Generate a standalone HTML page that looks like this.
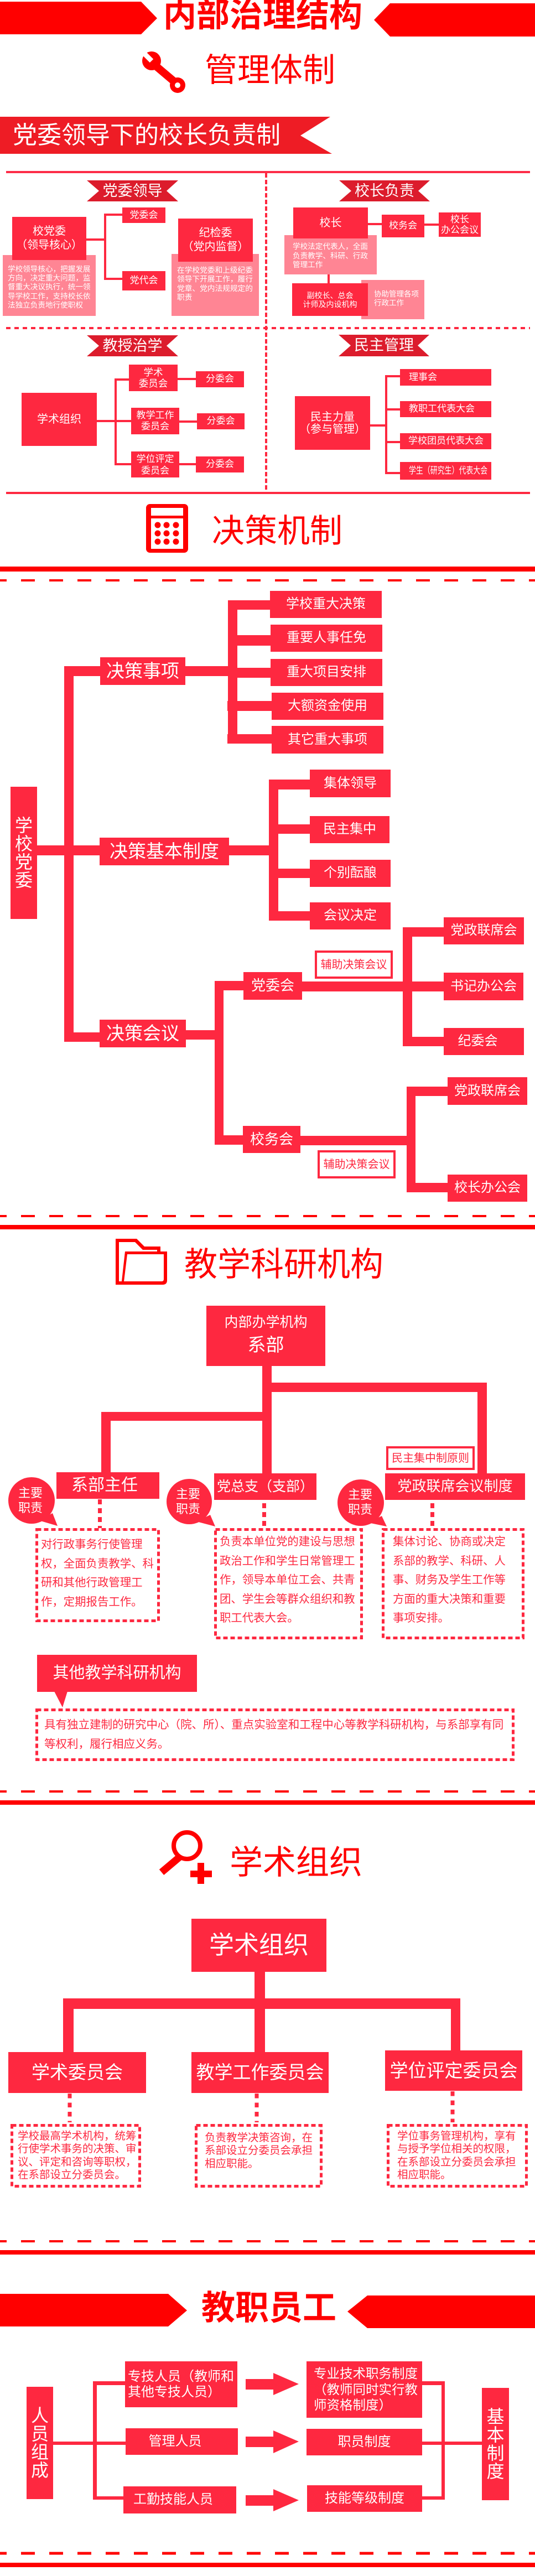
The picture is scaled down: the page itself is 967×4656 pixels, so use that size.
<!DOCTYPE html>
<html><head><meta charset="utf-8">
<style>
body{margin:0;background:#fff}
#p{position:relative;width:967px;height:4656px;overflow:hidden;background:#fff;font-family:"Liberation Sans","Noto Sans CJK SC",sans-serif}
.a{position:absolute;white-space:nowrap}
.b{position:absolute;background:#fe2840;color:#fff;display:flex;flex-direction:column;align-items:center;justify-content:center;text-align:center;white-space:nowrap;line-height:1.2}
.pk{position:absolute;background:#ff8594}
.l{position:absolute;background:#fe2840}
.h{position:absolute;white-space:nowrap;line-height:1;color:#f00}
.w{color:#fff}
.o{position:absolute;background:#fff;border:4px solid #fe2840;box-sizing:border-box;color:#fe2840;display:flex;align-items:center;justify-content:center;white-space:nowrap;line-height:1}
.dt{position:absolute;white-space:nowrap;color:#fe2840}
</style></head><body><div id="p">

<svg class="a" style="left:0;top:0" width="967" height="4656" viewBox="0 0 967 4656">
<!-- title chevrons -->
<polygon points="0,3 255,3 284,33 255,62 0,62" fill="#f00"/>
<polygon points="705,6 967,6 967,66 705,66 676,36" fill="#f00"/>
<!-- wrench -->
<line x1="279" y1="117" x2="318" y2="150" stroke="#f00" stroke-width="14"/>
<circle cx="274" cy="110" r="17" fill="#f00"/>
<rect x="-4.5" y="-32" width="9" height="32" fill="#fff" transform="translate(274,110) rotate(-45)"/>
<circle cx="321" cy="154" r="14" fill="#f00"/>
<circle cx="321" cy="154" r="5" fill="#fff"/>
<!-- banner -->
<polygon points="0,211 597,211 543,245 600,278 0,278" fill="#ee1c25"/>
<rect x="11" y="309" width="947" height="4" fill="#fd2c48"/>
<line x1="481" y1="313" x2="481" y2="889" stroke="#fe2840" stroke-width="4" stroke-dasharray="8 4"/>
<line x1="11" y1="593" x2="958" y2="593" stroke="#fe2840" stroke-width="4" stroke-dasharray="8 7"/>
<polygon points="157,326 322,326 301,345 322,364 157,364 179,345" fill="#dc1c2c"/>
<polygon points="613,326 777,326 756,345 777,364 613,364 635,345" fill="#dc1c2c"/>
<polygon points="157,606 322,606 301,625 322,644 157,644 179,625" fill="#dc1c2c"/>
<polygon points="612,605 776,605 755,624.5 776,644 612,644 634,624.5" fill="#dc1c2c"/>
<rect x="11" y="889" width="947" height="4" fill="#fe2840"/>
<!-- calculator -->
<rect x="264" y="911" width="76" height="88" rx="7" fill="#f00"/>
<rect x="273" y="918" width="58" height="14" fill="#fff"/>
<rect x="273" y="937" width="58" height="55" fill="#fff"/>
<g fill="#f00">
<ellipse cx="285" cy="949" rx="5.5" ry="5.5"/><ellipse cx="301" cy="949" rx="5.5" ry="5.5"/><ellipse cx="318" cy="949" rx="5.5" ry="5.5"/>
<ellipse cx="285" cy="964" rx="5.5" ry="5.5"/><ellipse cx="301" cy="964" rx="5.5" ry="5.5"/><ellipse cx="318" cy="964" rx="5.5" ry="5.5"/>
<ellipse cx="285" cy="979" rx="5.5" ry="5.5"/><ellipse cx="301" cy="979" rx="5.5" ry="5.5"/><ellipse cx="318" cy="979" rx="5.5" ry="5.5"/>
</g>
<rect x="0" y="1024" width="967" height="9" fill="#f00"/>
<line x1="0" y1="1049" x2="967" y2="1049" stroke="#f00" stroke-width="4" stroke-dasharray="25 26" stroke-dashoffset="13"/>
<line x1="0" y1="2198" x2="967" y2="2198" stroke="#f00" stroke-width="4" stroke-dasharray="25 26" stroke-dashoffset="13"/>
<rect x="0" y="2214" width="967" height="8" fill="#f00"/>
<!-- folder -->
<path d="M209,2239 H247 L261,2253 H290 V2262 H302 V2314 Q302,2322 294,2322 H209 Z" fill="#f00"/>
<path d="M215,2245 H244 L258,2259 H284 V2262 H226 L220,2316 H215 Z" fill="#fff"/>
<path d="M230,2267 H296 V2312 Q296,2316 292,2316 H224 Z" fill="#fff"/>
<!-- bubbles -->
<g fill="#fe2840">
<circle cx="57" cy="2712" r="42"/><polygon points="70,2748 95,2735 104,2758"/>
<circle cx="342" cy="2714" r="41"/><polygon points="355,2750 380,2738 389,2759"/>
<circle cx="652" cy="2716" r="42"/><polygon points="665,2752 690,2740 699,2759"/>
<polygon points="98,3057 122,3057 113,3086"/>
</g>
<g stroke="#fe2840" stroke-width="7" stroke-dasharray="9 7">
<line x1="180.5" y1="2710" x2="180.5" y2="2762"/>
<line x1="477.5" y1="2717" x2="477.5" y2="2758"/>
<line x1="781.5" y1="2717" x2="781.5" y2="2758"/>
</g>
<g fill="none" stroke="#fe2840" stroke-width="5" stroke-dasharray="8 5">
<rect x="66.5" y="2764.5" width="220" height="165"/>
<rect x="389.5" y="2764.5" width="264" height="196"/>
<rect x="692.5" y="2764.5" width="253" height="196"/>
<rect x="66.5" y="3090.5" width="861" height="90"/>
<rect x="21.5" y="3841.5" width="231" height="110"/>
<rect x="354.5" y="3841.5" width="226" height="110"/>
<rect x="701.5" y="3841.5" width="250" height="110"/>
</g>
<line x1="0" y1="3238" x2="967" y2="3238" stroke="#f00" stroke-width="4" stroke-dasharray="25 26" stroke-dashoffset="13"/>
<rect x="0" y="3254" width="967" height="8" fill="#f00"/>
<!-- magnifier -->
<circle cx="338" cy="3336" r="24" fill="none" stroke="#f00" stroke-width="8"/>
<line x1="324" y1="3357" x2="292" y2="3384" stroke="#f00" stroke-width="13"/>
<rect x="357" y="3367" width="12" height="38" fill="#f00"/>
<rect x="344" y="3381" width="39" height="12" fill="#f00"/>
<g stroke="#fe2840" stroke-width="7" stroke-dasharray="8.5 8">
<line x1="126" y1="3784" x2="126" y2="3836"/>
<line x1="464" y1="3784" x2="464" y2="3836"/>
<line x1="818" y1="3780" x2="818" y2="3836"/>
</g>
<line x1="0" y1="4051" x2="967" y2="4051" stroke="#f00" stroke-width="4" stroke-dasharray="25 26" stroke-dashoffset="13"/>
<rect x="0" y="4067" width="967" height="8" fill="#f00"/>
<polygon points="0,4146 304,4146 338,4176 304,4205 0,4205" fill="#f00"/>
<polygon points="664,4149 967,4149 967,4208 664,4208 628,4178" fill="#f00"/>
<g fill="#fe2840">
<polygon points="444,4300 494,4300 494,4289 540,4309 494,4329 494,4319 444,4319"/>
<polygon points="444,4404 494,4404 494,4393 540,4413 494,4434 494,4423 444,4423"/>
<polygon points="444,4510 494,4510 494,4499 540,4519 494,4539 494,4529 444,4529"/>
</g>
<line x1="0" y1="4615" x2="967" y2="4615" stroke="#f00" stroke-width="5" stroke-dasharray="25 26" stroke-dashoffset="13"/>
<rect x="0" y="4632" width="967" height="8" fill="#f00"/>
</svg>

<!-- ===== Titles ===== -->
<div class="h" style="left:295px;top:-2px;font-size:60px;font-weight:bold">内部治理结构</div>
<div class="h" style="left:370px;top:98px;font-size:59px">管理体制</div>
<div class="h w" style="left:23px;top:223px;font-size:44px">党委领导下的校长负责制</div>

<!-- ribbons text -->
<div class="a w" style="left:157px;top:326px;width:165px;height:38px;line-height:38px;text-align:center;font-size:27px">党委领导</div>
<div class="a w" style="left:613px;top:326px;width:164px;height:38px;line-height:38px;text-align:center;font-size:27px">校长负责</div>
<div class="a w" style="left:157px;top:606px;width:165px;height:38px;line-height:38px;text-align:center;font-size:27px">教授治学</div>
<div class="a w" style="left:612px;top:605px;width:164px;height:39px;line-height:39px;text-align:center;font-size:27px">民主管理</div>

<!-- top-left panel -->
<div class="pk" style="left:5px;top:461px;width:168px;height:110px"></div>
<div class="pk" style="left:310px;top:459px;width:158px;height:112px"></div>
<div class="b" style="left:22px;top:392px;width:134px;height:78px;font-size:20px;line-height:25px">校党委<br>（领导核心）</div>
<div class="b" style="left:322px;top:395px;width:135px;height:78px;font-size:20px;line-height:25px">纪检委<br>（党内监督）</div>
<div class="a w" style="left:14px;top:479px;font-size:13.6px;line-height:16.2px">学校领导核心，把握发展<br>方向，决定重大问题，监<br>督重大决议执行，统一领<br>导学校工作，支持校长依<br>法独立负责地行使职权</div>
<div class="a w" style="left:320px;top:481px;font-size:13.7px;line-height:16.3px">在学校党委和上级纪委<br>领导下开展工作，履行<br>党章、党内法规规定的<br>职责</div>
<div class="l" style="left:156px;top:431px;width:36px;height:4px"></div>
<div class="l" style="left:188px;top:386px;width:4px;height:120px"></div>
<div class="l" style="left:188px;top:386px;width:33px;height:4px"></div>
<div class="l" style="left:188px;top:502px;width:33px;height:4px"></div>
<div class="b" style="left:221px;top:375px;width:78px;height:28px;font-size:17px">党委会</div>
<div class="b" style="left:221px;top:490px;width:78px;height:35px;font-size:17px">党代会</div>

<!-- top-right panel -->
<div class="pk" style="left:514px;top:425px;width:167px;height:71px"></div>
<div class="pk" style="left:653px;top:506px;width:114px;height:71px"></div>
<div class="b" style="left:530px;top:375px;width:135px;height:56px;font-size:20px">校长</div>
<div class="a w" style="left:529px;top:438px;font-size:13.6px;line-height:16.5px">学校法定代表人，全面<br>负责教学、科研、行政<br>管理工作</div>
<div class="l" style="left:665px;top:403px;width:25px;height:4px"></div>
<div class="b" style="left:690px;top:388px;width:77px;height:41px;font-size:17px">校务会</div>
<div class="l" style="left:767px;top:404px;width:26px;height:4px"></div>
<div class="b" style="left:793px;top:384px;width:76px;height:44px;font-size:17px;line-height:19px">校长<br>办公会议</div>
<div class="l" style="left:592px;top:496px;width:4px;height:16px"></div>
<div class="b" style="left:528px;top:512px;width:137px;height:59px;font-size:14px;line-height:16px">副校长、总会<br>计师及内设机构</div>
<div class="a w" style="left:676px;top:524px;font-size:13.5px;line-height:16px">协助管理各项<br>行政工作</div>

<!-- bottom-left panel -->
<div class="b" style="left:39px;top:710px;width:136px;height:96px;font-size:20px">学术组织</div>
<div class="l" style="left:175px;top:759px;width:36px;height:4px"></div>
<div class="l" style="left:207px;top:684px;width:4px;height:157px"></div>
<div class="l" style="left:207px;top:684px;width:26px;height:4px"></div>
<div class="l" style="left:207px;top:759px;width:30px;height:4px"></div>
<div class="l" style="left:207px;top:837px;width:30px;height:4px"></div>
<div class="b" style="left:233px;top:659px;width:88px;height:48px;font-size:17.5px;line-height:20px">学术<br>委员会</div>
<div class="b" style="left:237px;top:737px;width:87px;height:48px;font-size:17px;line-height:20px">教学工作<br>委员会</div>
<div class="b" style="left:237px;top:816px;width:87px;height:47px;font-size:17px;line-height:21px">学位评定<br>委员会</div>
<div class="l" style="left:321px;top:683px;width:33px;height:4px"></div>
<div class="l" style="left:324px;top:760px;width:32px;height:4px"></div>
<div class="l" style="left:324px;top:837px;width:30px;height:4px"></div>
<div class="b" style="left:354px;top:671px;width:87px;height:29px;font-size:17px">分委会</div>
<div class="b" style="left:356px;top:747px;width:86px;height:29px;font-size:17px">分委会</div>
<div class="b" style="left:354px;top:825px;width:87px;height:29px;font-size:17px">分委会</div>

<!-- bottom-right panel -->
<div class="b" style="left:533px;top:716px;width:136px;height:97px;font-size:20px;line-height:22px">民主力量<br>（参与管理）</div>
<div class="l" style="left:669px;top:767px;width:31px;height:4px"></div>
<div class="l" style="left:696px;top:678px;width:4px;height:179px"></div>
<div class="l" style="left:696px;top:678px;width:27px;height:4px"></div>
<div class="l" style="left:696px;top:738px;width:27px;height:4px"></div>
<div class="l" style="left:696px;top:797px;width:27px;height:4px"></div>
<div class="l" style="left:696px;top:853px;width:27px;height:4px"></div>
<div class="b" style="left:723px;top:667px;width:165px;height:30px;font-size:17px;align-items:flex-start;padding-left:16px;box-sizing:border-box">理事会</div>
<div class="b" style="left:723px;top:725px;width:165px;height:29px;font-size:17px;align-items:flex-start;padding-left:16px;box-sizing:border-box">教职工代表大会</div>
<div class="b" style="left:723px;top:783px;width:165px;height:29px;font-size:17px;align-items:flex-start;padding-left:15px;box-sizing:border-box">学校团员代表大会</div>
<div class="b" style="left:723px;top:835px;width:165px;height:32px;font-size:17px;align-items:flex-start;padding-left:16px;box-sizing:border-box"><span style="display:inline-block;transform:scaleX(0.76);transform-origin:0 50%">学生（研究生）代表大会</span></div>

<!-- ===== 决策机制 ===== -->
<div class="h" style="left:383px;top:931px;font-size:59px">决策机制</div>

<div class="b" style="left:19px;top:1422px;width:48px;height:239px;font-size:32px;line-height:33px">学<br>校<br>党<br>委</div>
<div class="l" style="left:116px;top:1204px;width:17px;height:679px"></div>
<div class="l" style="left:67px;top:1528px;width:113px;height:18px"></div>
<div class="l" style="left:116px;top:1204px;width:65px;height:18px"></div>
<div class="l" style="left:116px;top:1866px;width:64px;height:17px"></div>
<div class="b" style="left:181px;top:1188px;width:154px;height:50px;font-size:33px">决策事项</div>
<div class="b" style="left:180px;top:1514px;width:234px;height:50px;font-size:33px">决策基本制度</div>
<div class="b" style="left:180px;top:1843px;width:156px;height:50px;font-size:33px">决策会议</div>

<!-- 决策事项 -->
<div class="l" style="left:335px;top:1204px;width:94px;height:18px"></div>
<div class="l" style="left:412px;top:1085px;width:17px;height:259px"></div>
<div class="l" style="left:412px;top:1085px;width:78px;height:17px"></div>
<div class="l" style="left:412px;top:1148px;width:78px;height:19px"></div>
<div class="l" style="left:412px;top:1207px;width:78px;height:18px"></div>
<div class="l" style="left:411px;top:1267px;width:80px;height:18px"></div>
<div class="l" style="left:411px;top:1327px;width:80px;height:17px"></div>
<div class="b" style="left:488px;top:1068px;width:202px;height:49px;font-size:24px">学校重大决策</div>
<div class="b" style="left:489px;top:1129px;width:202px;height:49px;font-size:24px">重要人事任免</div>
<div class="b" style="left:489px;top:1191px;width:202px;height:49px;font-size:24px">重大项目安排</div>
<div class="b" style="left:491px;top:1252px;width:202px;height:49px;font-size:24px">大额资金使用</div>
<div class="b" style="left:491px;top:1312px;width:202px;height:50px;font-size:24px">其它重大事项</div>

<!-- 决策基本制度 -->
<div class="l" style="left:414px;top:1528px;width:89px;height:18px"></div>
<div class="l" style="left:486px;top:1409px;width:17px;height:255px"></div>
<div class="l" style="left:486px;top:1409px;width:74px;height:18px"></div>
<div class="l" style="left:486px;top:1490px;width:74px;height:17px"></div>
<div class="l" style="left:486px;top:1570px;width:74px;height:17px"></div>
<div class="l" style="left:486px;top:1647px;width:74px;height:17px"></div>
<div class="b" style="left:560px;top:1391px;width:146px;height:50px;font-size:24px">集体领导</div>
<div class="b" style="left:560px;top:1475px;width:144px;height:49px;font-size:24px">民主集中</div>
<div class="b" style="left:560px;top:1554px;width:146px;height:49px;font-size:24px">个别酝酿</div>
<div class="b" style="left:560px;top:1631px;width:146px;height:49px;font-size:24px">会议决定</div>

<!-- 决策会议 -->
<div class="l" style="left:336px;top:1862px;width:68px;height:17px"></div>
<div class="l" style="left:388px;top:1773px;width:16px;height:296px"></div>
<div class="l" style="left:388px;top:1773px;width:52px;height:17px"></div>
<div class="l" style="left:388px;top:2052px;width:51px;height:17px"></div>
<div class="b" style="left:440px;top:1757px;width:106px;height:50px;font-size:26px">党委会</div>
<div class="b" style="left:439px;top:2035px;width:104px;height:49px;font-size:26px">校务会</div>
<div class="l" style="left:546px;top:1774px;width:199px;height:18px"></div>
<div class="l" style="left:728px;top:1676px;width:17px;height:215px"></div>
<div class="l" style="left:728px;top:1676px;width:74px;height:17px"></div>
<div class="l" style="left:728px;top:1774px;width:74px;height:18px"></div>
<div class="l" style="left:728px;top:1874px;width:74px;height:17px"></div>
<div class="b" style="left:802px;top:1658px;width:145px;height:49px;font-size:24px">党政联席会</div>
<div class="b" style="left:802px;top:1758px;width:144px;height:50px;font-size:24px">书记办公会</div>
<div class="b" style="left:802px;top:1858px;width:145px;height:49px;font-size:24px;padding-right:22px;box-sizing:border-box">纪委会</div>
<div class="o" style="left:569px;top:1718px;width:141px;height:51px;font-size:20px">辅助决策会议</div>
<div class="l" style="left:543px;top:2053px;width:208px;height:17px"></div>
<div class="l" style="left:735px;top:1964px;width:16px;height:191px"></div>
<div class="l" style="left:735px;top:1964px;width:74px;height:17px"></div>
<div class="l" style="left:735px;top:2138px;width:74px;height:17px"></div>
<div class="b" style="left:809px;top:1947px;width:144px;height:50px;font-size:24px">党政联席会</div>
<div class="b" style="left:809px;top:2123px;width:144px;height:49px;font-size:24px">校长办公会</div>
<div class="o" style="left:574px;top:2079px;width:141px;height:51px;font-size:20px">辅助决策会议</div>

<!-- ===== 教学科研机构 ===== -->
<div class="h" style="left:333px;top:2256px;font-size:60px">教学科研机构</div>
<div class="b" style="left:373px;top:2360px;width:215px;height:109px"></div>
<div class="a w" style="left:373px;top:2378px;width:215px;text-align:center;font-size:25px;line-height:1">内部办学机构</div>
<div class="a w" style="left:373px;top:2414px;width:215px;text-align:center;font-size:33px;line-height:1">系部</div>
<div class="l" style="left:474px;top:2469px;width:17px;height:194px"></div>
<div class="l" style="left:474px;top:2499px;width:406px;height:17px"></div>
<div class="l" style="left:863px;top:2499px;width:17px;height:164px"></div>
<div class="l" style="left:183px;top:2552px;width:308px;height:16px"></div>
<div class="l" style="left:183px;top:2552px;width:17px;height:109px"></div>
<div class="o" style="left:698px;top:2614px;width:160px;height:43px;font-size:20px">民主集中制原则</div>
<div class="b" style="left:102px;top:2661px;width:186px;height:48px;font-size:30px;padding-right:12px;box-sizing:border-box">系部主任</div>
<div class="b" style="left:387px;top:2663px;width:185px;height:48px;font-size:25px">党总支（支部）</div>
<div class="b" style="left:696px;top:2663px;width:253px;height:48px;font-size:26px">党政联席会议制度</div>
<div class="a w" style="left:25px;top:2685px;width:60px;text-align:center;font-size:22px;line-height:27px">主要<br>职责</div>
<div class="a w" style="left:310px;top:2687px;width:60px;text-align:center;font-size:22px;line-height:27px">主要<br>职责</div>
<div class="a w" style="left:621px;top:2688px;width:60px;text-align:center;font-size:22px;line-height:27px">主要<br>职责</div>
<div class="dt" style="left:74px;top:2775px;font-size:20.4px;line-height:34.5px">对行政事务行使管理<br>权，全面负责教学、科<br>研和其他行政管理工<br>作，定期报告工作。</div>
<div class="dt" style="left:397px;top:2770px;font-size:20.4px;line-height:34.5px">负责本单位党的建设与思想<br>政治工作和学生日常管理工<br>作，领导本单位工会、共青<br>团、学生会等群众组织和教<br>职工代表大会。</div>
<div class="dt" style="left:710px;top:2770px;font-size:20.4px;line-height:34.5px">集体讨论、协商或决定<br>系部的教学、科研、人<br>事、财务及学生工作等<br>方面的重大决策和重要<br>事项安排。</div>
<div class="b" style="left:67px;top:2991px;width:289px;height:67px;font-size:29px">其他教学科研机构</div>
<div class="dt" style="left:80px;top:3100px;font-size:20.5px;line-height:35px">具有独立建制的研究中心（院、所）、重点实验室和工程中心等教学科研机构，与系部享有同<br>等权利，履行相应义务。</div>

<!-- ===== 学术组织 ===== -->
<div class="h" style="left:415px;top:3337px;font-size:60px">学术组织</div>
<div class="b" style="left:346px;top:3468px;width:244px;height:96px;font-size:45px">学术组织</div>
<div class="l" style="left:460px;top:3564px;width:19px;height:48px"></div>
<div class="l" style="left:114px;top:3612px;width:718px;height:19px"></div>
<div class="l" style="left:114px;top:3612px;width:19px;height:97px"></div>
<div class="l" style="left:460px;top:3612px;width:19px;height:97px"></div>
<div class="l" style="left:815px;top:3612px;width:17px;height:94px"></div>
<div class="b" style="left:15px;top:3709px;width:249px;height:74px;font-size:33px">学术委员会</div>
<div class="b" style="left:346px;top:3709px;width:248px;height:74px;font-size:33px">教学工作委员会</div>
<div class="b" style="left:696px;top:3706px;width:248px;height:73px;font-size:33px">学位评定委员会</div>
<div class="dt" style="left:32px;top:3850px;font-size:19.5px;line-height:23.3px">学校最高学术机构，统筹<br>行使学术事务的决策、审<br>议、评定和咨询等职权，<br>在系部设立分委员会。</div>
<div class="dt" style="left:370px;top:3853px;font-size:19.5px;line-height:23.3px">负责教学决策咨询，在<br>系部设立分委员会承担<br>相应职能。</div>
<div class="dt" style="left:718px;top:3850px;font-size:19.5px;line-height:23.3px">学位事务管理机构，享有<br>与授予学位相关的权限，<br>在系部设立分委员会承担<br>相应职能。</div>

<!-- ===== 教职员工 ===== -->
<div class="h" style="left:364px;top:4141px;font-size:61px;font-weight:bold">教职员工</div>
<div class="b" style="left:48px;top:4314px;width:48px;height:203px;font-size:32px;line-height:33px">人<br>员<br>组<br>成</div>
<div class="l" style="left:96px;top:4413px;width:79px;height:6px"></div>
<div class="l" style="left:168px;top:4304px;width:7px;height:214px"></div>
<div class="l" style="left:168px;top:4304px;width:58px;height:7px"></div>
<div class="l" style="left:168px;top:4413px;width:59px;height:6px"></div>
<div class="l" style="left:168px;top:4512px;width:55px;height:6px"></div>
<div class="b" style="left:226px;top:4268px;width:203px;height:83px;font-size:24px;line-height:28px;align-items:flex-start;padding-left:5px;box-sizing:border-box;text-align:left">专技人员（教师和<br>其他专技人员）</div>
<div class="b" style="left:227px;top:4389px;width:203px;height:48px;font-size:24px;padding-right:24px;box-sizing:border-box">管理人员</div>
<div class="b" style="left:223px;top:4494px;width:204px;height:49px;font-size:24px;padding-right:24px;box-sizing:border-box">工勤技能人员</div>
<div class="b" style="left:554px;top:4268px;width:209px;height:102px;font-size:23.5px;line-height:28.5px;align-items:flex-start;padding-left:13px;box-sizing:border-box;text-align:left">专业技术职务制度<br>（教师同时实行教<br>师资格制度）</div>
<div class="b" style="left:554px;top:4390px;width:209px;height:48px;font-size:24px">职员制度</div>
<div class="b" style="left:555px;top:4492px;width:208px;height:48px;font-size:24px">技能等级制度</div>
<div class="l" style="left:798px;top:4304px;width:6px;height:214px"></div>
<div class="l" style="left:763px;top:4304px;width:41px;height:7px"></div>
<div class="l" style="left:763px;top:4413px;width:108px;height:6px"></div>
<div class="l" style="left:763px;top:4512px;width:41px;height:6px"></div>
<div class="b" style="left:871px;top:4316px;width:49px;height:203px;font-size:32px;line-height:33px">基<br>本<br>制<br>度</div>

</div></body></html>
